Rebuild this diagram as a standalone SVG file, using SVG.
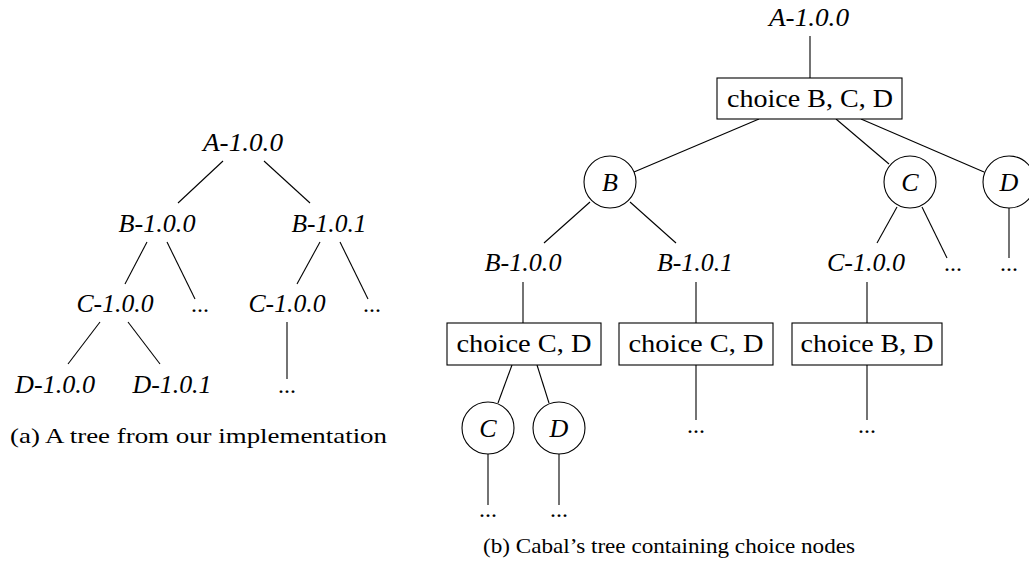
<svg xmlns="http://www.w3.org/2000/svg" width="1029" height="574" viewBox="0 0 1029 574">
<style>
.bg{fill:#fff}
.e{stroke:#000;stroke-width:1.1;fill:none}
.lbl{font-family:"Liberation Serif",serif;font-style:italic;font-size:25px;fill:#000;text-anchor:middle}
.cl{font-family:"Liberation Serif",serif;font-style:italic;font-size:26px;fill:#000;text-anchor:middle}
.ch{font-family:"Liberation Serif",serif;font-size:25px;fill:#000;text-anchor:middle}
.dots{font-family:"Liberation Serif",serif;font-size:24px;fill:#000;text-anchor:middle}
.cap{font-family:"Liberation Serif",serif;font-size:21.5px;fill:#000}
.box{fill:#fff;stroke:#000;stroke-width:1.1}
.circ{fill:#fff;stroke:#000;stroke-width:1.1}
</style>
<rect class="bg" x="0" y="0" width="1029" height="574"/>
<g id="connectors">
<line class="e" x1="223" y1="161" x2="178" y2="203"/>
<line class="e" x1="264" y1="161" x2="310" y2="203"/>
<line class="e" x1="147" y1="242" x2="125" y2="284"/>
<line class="e" x1="167" y1="242" x2="195" y2="299"/>
<line class="e" x1="320" y1="242" x2="297" y2="284"/>
<line class="e" x1="340" y1="242" x2="368" y2="299"/>
<line class="e" x1="100" y1="322" x2="68" y2="364"/>
<line class="e" x1="128" y1="322" x2="160" y2="364"/>
<line class="e" x1="287" y1="322" x2="287" y2="379"/>
<line class="e" x1="810" y1="36" x2="810" y2="78"/>
<line class="e" x1="759" y1="119" x2="634" y2="172"/>
<line class="e" x1="836" y1="119" x2="889" y2="164"/>
<line class="e" x1="861" y1="119" x2="984" y2="172"/>
<line class="e" x1="590" y1="202" x2="544" y2="243"/>
<line class="e" x1="630" y1="202" x2="676" y2="243"/>
<line class="e" x1="897" y1="207" x2="877" y2="243"/>
<line class="e" x1="922" y1="207" x2="947" y2="258"/>
<line class="e" x1="1009" y1="208" x2="1009" y2="258"/>
<line class="e" x1="523" y1="282" x2="523" y2="323"/>
<line class="e" x1="696" y1="282" x2="696" y2="323"/>
<line class="e" x1="867" y1="282" x2="867" y2="323"/>
<line class="e" x1="512" y1="365" x2="498" y2="403"/>
<line class="e" x1="537" y1="365" x2="549" y2="403"/>
<line class="e" x1="488" y1="454" x2="488" y2="505"/>
<line class="e" x1="559" y1="454" x2="559" y2="505"/>
<line class="e" x1="696" y1="365" x2="696" y2="420"/>
<line class="e" x1="867" y1="365" x2="867" y2="420"/>
</g>
<g id="a-A100"><text class="lbl" x="243" y="151" textLength="80" lengthAdjust="spacingAndGlyphs">A-1.0.0</text></g>
<g id="a-B100"><text class="lbl" x="157" y="232" textLength="77" lengthAdjust="spacingAndGlyphs">B-1.0.0</text></g>
<g id="a-B101"><text class="lbl" x="329" y="232" textLength="75" lengthAdjust="spacingAndGlyphs">B-1.0.1</text></g>
<g id="a-C100-l"><text class="lbl" x="115" y="312" textLength="77" lengthAdjust="spacingAndGlyphs">C-1.0.0</text></g>
<g id="a-dots1"><text class="dots" x="200" y="312">...</text></g>
<g id="a-C100-r"><text class="lbl" x="287" y="312" textLength="77" lengthAdjust="spacingAndGlyphs">C-1.0.0</text></g>
<g id="a-dots2"><text class="dots" x="372" y="312">...</text></g>
<g id="a-D100"><text class="lbl" x="55" y="393" textLength="80" lengthAdjust="spacingAndGlyphs">D-1.0.0</text></g>
<g id="a-D101"><text class="lbl" x="172" y="393" textLength="79" lengthAdjust="spacingAndGlyphs">D-1.0.1</text></g>
<g id="a-dots3"><text class="dots" x="287" y="393">...</text></g>
<g id="cap-a"><text class="cap" x="10" y="443" textLength="377" lengthAdjust="spacingAndGlyphs">(a) A tree from our implementation</text></g>

<g id="b-A100"><text class="lbl" x="809" y="26" textLength="80" lengthAdjust="spacingAndGlyphs">A-1.0.0</text></g>
<g id="b-choiceBCD"><rect class="box" x="717" y="78" width="185" height="41"/><text class="ch" x="810" y="107" textLength="166" lengthAdjust="spacingAndGlyphs">choice B, C, D</text></g>
<g id="b-B"><circle class="circ" cx="610" cy="182" r="26"/><text class="cl" x="610" y="191">B</text></g>
<g id="b-C"><circle class="circ" cx="910" cy="182" r="26"/><text class="cl" x="910" y="191">C</text></g>
<g id="b-D"><circle class="circ" cx="1009" cy="182" r="26"/><text class="cl" x="1009" y="191">D</text></g>
<g id="b-B100"><text class="lbl" x="523" y="271" textLength="77" lengthAdjust="spacingAndGlyphs">B-1.0.0</text></g>
<g id="b-B101"><text class="lbl" x="695" y="271" textLength="76" lengthAdjust="spacingAndGlyphs">B-1.0.1</text></g>
<g id="b-C100"><text class="lbl" x="866" y="271" textLength="78" lengthAdjust="spacingAndGlyphs">C-1.0.0</text></g>
<g id="b-dotsC"><text class="dots" x="953" y="271">...</text></g>
<g id="b-dotsD"><text class="dots" x="1009" y="271">...</text></g>
<g id="b-choiceCD1"><rect class="box" x="447" y="323" width="154" height="42"/><text class="ch" x="524" y="352" textLength="135" lengthAdjust="spacingAndGlyphs">choice C, D</text></g>
<g id="b-choiceCD2"><rect class="box" x="619" y="323" width="154" height="42"/><text class="ch" x="696" y="352" textLength="135" lengthAdjust="spacingAndGlyphs">choice C, D</text></g>
<g id="b-choiceBD"><rect class="box" x="792" y="323" width="150" height="42"/><text class="ch" x="867" y="352" textLength="133" lengthAdjust="spacingAndGlyphs">choice B, D</text></g>
<g id="b-C2"><circle class="circ" cx="488" cy="428" r="26"/><text class="cl" x="488" y="437">C</text></g>
<g id="b-D2"><circle class="circ" cx="559" cy="428" r="26"/><text class="cl" x="559" y="437">D</text></g>
<g id="b-dots-C2"><text class="dots" x="488" y="517">...</text></g>
<g id="b-dots-D2"><text class="dots" x="559" y="517">...</text></g>
<g id="b-dots-CD2"><text class="dots" x="696" y="433">...</text></g>
<g id="b-dots-BD"><text class="dots" x="867" y="433">...</text></g>
<g id="cap-b"><text class="cap" x="483" y="553" textLength="372" lengthAdjust="spacingAndGlyphs">(b) Cabal’s tree containing choice nodes</text></g>
</svg>
